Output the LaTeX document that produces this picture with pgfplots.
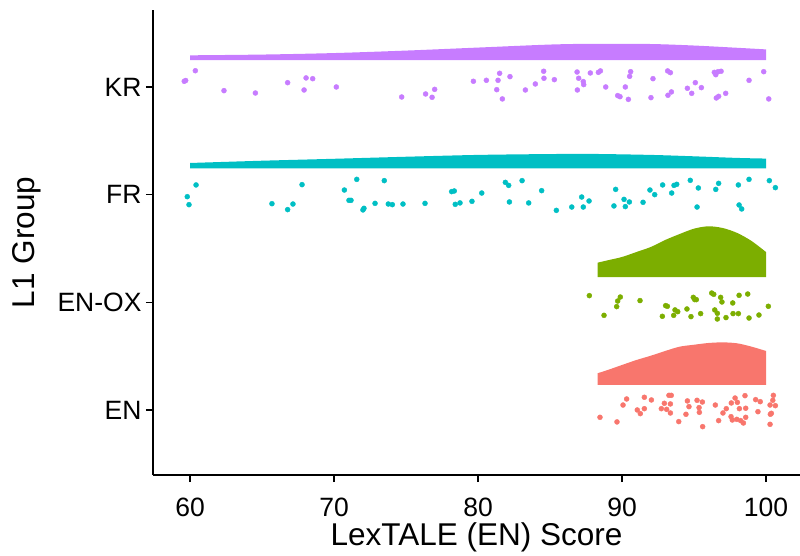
\documentclass[border=0pt]{standalone}
\usepackage{fontspec}
\setmainfont{Liberation Sans}
\usepackage{pgfplots}
\pgfplotsset{compat=1.18}
\usepgfplotslibrary{fillbetween}

\definecolor{encol}{HTML}{F8766D}
\definecolor{oxcol}{HTML}{7CAE00}
\definecolor{frcol}{HTML}{00BFC4}
\definecolor{krcol}{HTML}{C77CFF}

\begin{document}
\begin{tikzpicture}
\begin{axis}[
  scale only axis,
  width=647pt, height=465pt,
  xmin=57.43, xmax=102.36,
  ymin=0.396, ymax=4.715,
  axis x line*=bottom, axis y line*=left,
  axis line style={line width=1.5pt, black},
  tick align=outside,
  major tick length=7pt,
  tick style={line width=1.5pt, black},
  xtick={60,70,80,90,100},
  ytick={1,2,3,4},
  yticklabels={EN,EN-OX,FR,KR},
  /pgf/number format/assume math mode=true,
  tick label style={font=\fontsize{26.5}{31}\selectfont, black},
  label style={font=\fontsize{31.5}{37}\selectfont, black},
  xticklabel shift=12pt,
  yticklabel shift=1pt,
  xlabel={LexTALE (EN) Score},
  ylabel={L1 Group},
  xlabel shift=0pt,
  ylabel shift=10pt,
  clip=false,
]
% ---- densities (half violins) ----
% EN
\addplot[name path=entop, draw=none, smooth] coordinates {
  (88.3,1.341)(89,1.371)(90,1.418)(91,1.464)(92,1.504)(93,1.548)(94,1.588)
  (95,1.606)(96,1.622)(97,1.628)(98,1.619)(99,1.588)(100,1.548)};
\addplot[name path=enbase, draw=none] coordinates {(88.3,1.232)(100,1.232)};
\addplot[fill=encol, draw=none] fill between[of=entop and enbase];
% EN-OX
\addplot[name path=oxtop, draw=none, smooth] coordinates {
  (88.3,2.368)(89,2.390)(90,2.421)(91,2.467)(92,2.514)(93,2.579)(94,2.634)
  (95,2.684)(96,2.706)(97,2.690)(98,2.644)(99,2.569)(100,2.467)};
\addplot[name path=oxbase, draw=none] coordinates {(88.3,2.235)(100,2.235)};
\addplot[fill=oxcol, draw=none] fill between[of=oxtop and oxbase];
% FR
\addplot[name path=frtop, draw=none, smooth] coordinates {
  (60,3.294)(65,3.315)(70,3.333)(75,3.352)(80,3.369)(85,3.377)(88,3.378)
  (92,3.369)(95,3.356)(98,3.341)(100,3.335)};
\addplot[name path=frbase, draw=none] coordinates {(60,3.245)(100,3.245)};
\addplot[fill=frcol, draw=none] fill between[of=frtop and frbase];
% KR
\addplot[name path=krtop, draw=none, smooth] coordinates {
  (60,4.294)(65,4.301)(70,4.315)(75,4.338)(80,4.366)(85,4.394)(88,4.401)
  (92,4.399)(95,4.385)(98,4.364)(100,4.349)};
\addplot[name path=krbase, draw=none] coordinates {(60,4.25)(100,4.25)};
\addplot[fill=krcol, draw=none] fill between[of=krtop and krbase];

% ---- jittered points ----
% EN
\addplot[only marks, mark=*, mark size=2.5pt, color=encol] coordinates {
  (88.47,0.932)(89.65,0.889)(90.07,1.046)(90.32,1.102)(91.06,1.0)(91.27,0.966)
  (91.55,1.118)(91.55,1.012)(92.04,1.093)(92.73,1.012)(92.94,1.062)(93.1,1.006)
  (93.26,1.136)(93.42,1.136)(93.36,1.056)(93.36,0.972)(93.94,0.892)(94.44,0.96)
  (94.54,1.084)(94.65,1.031)(95.21,1.09)(95.35,1.022)(95.37,0.978)(95.58,1.074)
  (95.6,0.845)(96.48,1.046)(96.71,0.901)(97.01,0.972)(97.24,1.012)(97.59,1.065)
  (97.57,0.938)(97.66,0.907)(97.85,1.111)(98.01,1.071)(97.97,0.913)(98.15,1.012)
  (98.24,0.901)(98.43,0.879)(98.54,1.133)(98.59,1.016)(98.59,0.932)(99.28,1.096)
  (99.44,0.984)(99.6,1.077)(100.28,1.046)(100.3,0.96)(100.28,0.867)(100.37,0.969)
  (100.47,1.09)(100.51,1.136)(100.65,1.04)};
% EN-OX
\addplot[only marks, mark=*, mark size=2.5pt, color=oxcol] coordinates {
  (87.73,2.062)(88.75,1.879)(89.63,1.96)(89.7,2.012)(89.88,2.049)(91.25,2.016)
  (92.8,1.87)(93.03,1.969)(93.15,1.963)(93.59,1.879)(93.68,1.929)(93.87,1.913)
  (94.51,1.938)(94.79,1.867)(94.95,2.046)(95.05,2.025)(95.16,2.025)(95.46,1.895)
  (96.23,2.086)(96.37,2.074)(96.44,1.929)(96.62,1.898)(96.62,1.845)(96.85,2.046)
  (96.94,2.003)(97.22,1.858)(97.69,1.994)(97.71,1.895)(98.08,1.895)(98.13,2.065)
  (98.73,2.077)(98.82,1.854)(99.51,1.882)(100.16,1.963)};
% FR
\addplot[only marks, mark=*, mark size=2.5pt, color=frcol] coordinates {
  (59.81,2.981)(59.93,2.907)(60.42,3.09)(65.69,2.916)(66.78,2.861)(67.15,2.913)
  (67.78,3.093)(70.72,3.043)(71.04,2.947)(71.18,2.947)(71.58,3.142)(72.01,2.858)
  (72.08,2.873)(72.85,2.919)(73.49,3.13)(73.77,2.913)(74.05,2.907)(74.79,2.913)
  (76.32,2.919)(78.17,3.028)(78.35,3.034)(78.42,2.91)(78.75,2.923)
  (79.58,2.938)(80.26,3.015)(81.9,3.114)(82.13,3.086)(82.18,2.932)(83.06,3.13)
  (83.52,2.923)(84.42,3.037)(85.44,2.854)(86.51,2.885)(87.2,2.978)(87.31,2.885)
  (87.71,2.941)(89.44,2.895)(89.56,3.049)(90.14,2.956)(90.23,2.889)(90.51,2.932)
  (91.46,2.929)(91.94,3.043)(92.27,3.0)(92.82,3.09)(93.45,3.015)(93.61,3.086)
  (93.8,3.096)(94.74,3.133)(95.21,2.885)(95.3,3.062)(96.51,3.049)(96.71,3.105)
  (98.08,3.09)(98.13,2.904)(98.31,2.867)(98.82,3.142)(100.23,3.13)(100.65,3.065)};
% KR
\addplot[only marks, mark=*, mark size=2.5pt, color=krcol] coordinates {
  (59.6,4.053)(59.7,4.06)(60.37,4.151)(62.36,3.966)(64.54,3.944)(66.78,4.04)
  (67.92,3.972)(68.06,4.084)(68.52,4.077)(70.16,4.0)(74.7,3.907)(76.36,3.935)
  (76.81,3.904)(76.99,3.978)(79.68,4.053)(80.58,4.062)(81.39,4.062)(81.5,4.127)
  (81.3,3.975)(81.69,3.889)(82.22,4.096)(83.29,3.972)(83.98,4.028)(84.56,4.146)
  (84.58,4.081)(85.3,4.068)(86.88,4.139)(86.99,4.081)(86.9,3.972)(87.31,4.05)
  (87.34,4.022)(87.8,4.13)(88.36,4.136)(88.5,4.149)(88.87,4.0)(89.7,3.92)
  (89.86,3.91)(90.23,4.0)(90.44,3.885)(90.53,4.099)(90.6,4.142)(92.01,3.901)
  (92.15,4.077)(93.17,4.149)(93.36,4.133)(93.19,3.923)(93.43,3.954)(94.54,3.988)
  (94.84,3.941)(95.09,4.04)(95.51,3.994)(96.41,4.136)(96.51,4.114)(96.67,4.142)
  (96.88,4.146)(96.55,3.898)(96.71,3.913)(97.2,3.941)(98.82,4.062)(99.84,4.142)
  (100.19,3.889)};
\end{axis}
\pgfresetboundingbox
\path[use as bounding box] (-153pt,-80pt) rectangle (647pt,475pt);
\end{tikzpicture}
\end{document}
